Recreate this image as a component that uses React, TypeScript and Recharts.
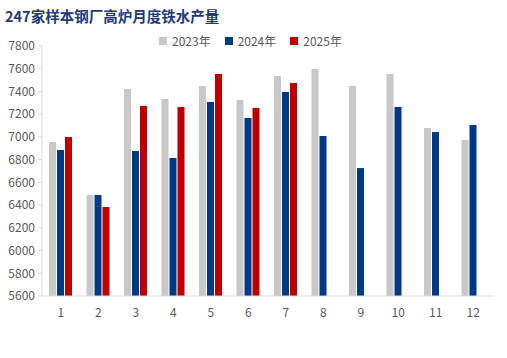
import { Bar, BarChart, XAxis, YAxis } from "recharts";

const months = ["1", "2", "3", "4", "5", "6", "7", "8", "9", "10", "11", "12"];
const y2023 = [6955, 6489, 7422, 7334, 7448, 7325, 7536, 7598, 7448, 7554, 7078, 6973];
const y2024 = [6885, 6489, 6876, 6814, 7307, 7166, 7395, 7008, 6726, 7263, 7043, 7105];
const y2025 = [6999, 6383, 7272, 7263, 7554, 7254, 7474, null, null, null, null, null];
const yTicks = [5600, 5800, 6000, 6200, 6400, 6600, 6800, 7000, 7200, 7400, 7600, 7800];

const series = [
  { key: "y2023", name: "2023年", color: "#c8c8c8" },
  { key: "y2024", name: "2024年", color: "#003a87" },
  { key: "y2025", name: "2025年", color: "#c00000" },
];

const data = months.map((m, i) => ({
  month: m,
  y2023: y2023[i],
  y2024: y2024[i],
  y2025: y2025[i],
}));

const font = "'Noto Sans CJK SC', 'Noto Sans', sans-serif";

function LegendRow() {
  return (
    <div
      style={{
        position: "absolute",
        left: 159,
        top: 32,
        display: "flex",
        gap: 14,
        fontFamily: font,
        fontSize: 12,
        color: "#595959",
      }}
    >
      {series.map((s) => (
        <div key={s.key} style={{ display: "flex", alignItems: "center", gap: 5 }}>
          <span style={{ width: 8, height: 8, background: s.color, display: "inline-block" }} />
          <span>{s.name}</span>
        </div>
      ))}
    </div>
  );
}

export default function App() {
  return (
    <div style={{ position: "absolute", left: 0, top: 0, width: 507, height: 358, background: "#fff" }}>
      <div
        style={{
          position: "absolute",
          left: 5,
          top: 5,
          fontFamily: font,
          fontWeight: 700,
          fontSize: 14.5,
          color: "#1f3a7a",
        }}
      >
        247家样本钢厂高炉月度铁水产量
      </div>
      <LegendRow />
      <BarChart
        width={507}
        height={358}
        data={data}
        margin={{ top: 46, right: 15, bottom: 32, left: 0 }}
        barSize={7}
        barGap={1}
      >
        <XAxis
          dataKey="month"
          tickLine={false}
          axisLine={{ stroke: "#d9d9d9" }}
          tick={{ fill: "#595959", fontSize: 12, fontFamily: font }}
          tickMargin={6}
        />
        <YAxis
          width={42}
          domain={[5600, 7800]}
          ticks={yTicks}
          interval={0}
          allowDataOverflow
          tickSize={4}
          tickMargin={3}
          tickLine={{ stroke: "#d9d9d9" }}
          axisLine={{ stroke: "#d9d9d9" }}
          tick={{ fill: "#595959", fontSize: 12, fontFamily: font }}
        />
        {series.map((s) => (
          <Bar key={s.key} dataKey={s.key} name={s.name} fill={s.color} isAnimationActive={false} />
        ))}
      </BarChart>
    </div>
  );
}
